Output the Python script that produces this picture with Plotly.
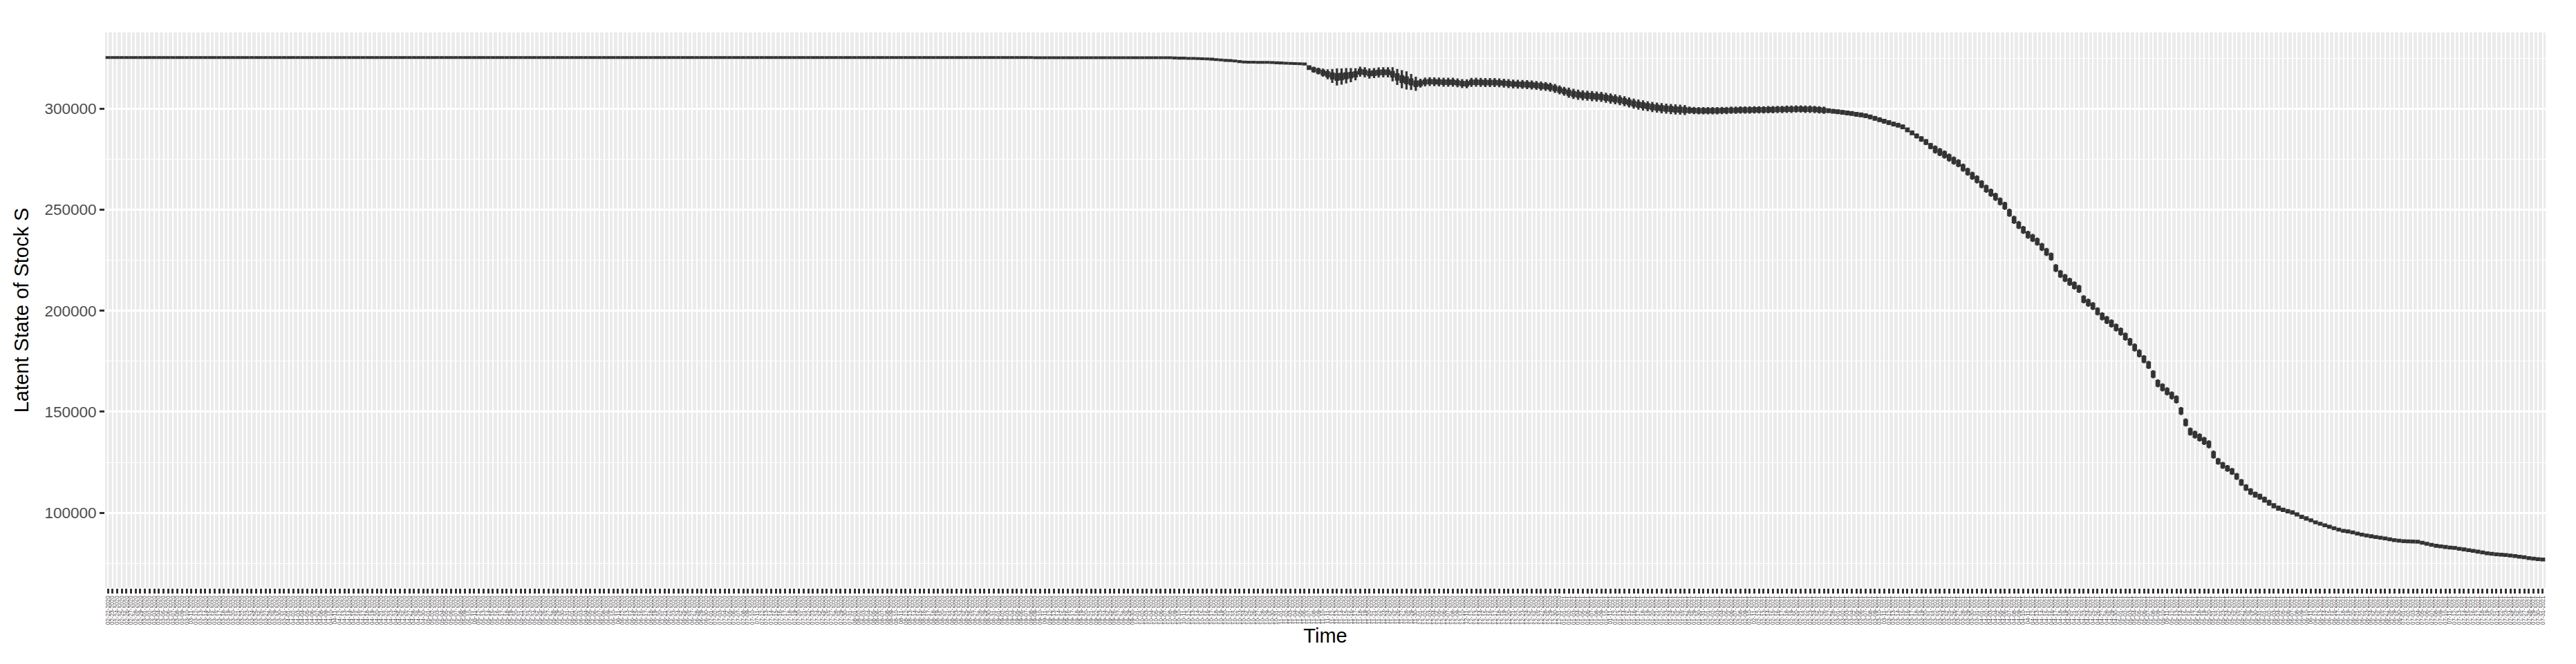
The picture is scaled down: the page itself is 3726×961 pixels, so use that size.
import plotly.graph_objects as go
import pandas as pd

# ---------------- categories (daily dates) ----------------
start_date = "2020-02-22"
end_date = "2021-07-31"
dates = [d.strftime("%m-%d-%Y") for d in pd.date_range(start_date, end_date, freq="D")]

# ---------------- medians (thousands) ----------------
med_flat = [
    325.3, 325.3, 325.3, 325.3, 325.3, 325.3, 325.3, 325.3, 325.3, 325.3, 325.3, 325.3, 325.3, 325.3, 325.3, 325.3, 325.3, 325.3, 325.3, 325.3,
    325.3, 325.3, 325.3, 325.3, 325.3, 325.3, 325.3, 325.3, 325.3, 325.3, 325.3, 325.3, 325.3, 325.3, 325.3, 325.3, 325.3, 325.3, 325.3, 325.3,
    325.3, 325.3, 325.3, 325.3, 325.3, 325.3, 325.3, 325.3, 325.3, 325.3, 325.3, 325.3, 325.3, 325.3, 325.3, 325.3, 325.3, 325.3, 325.3, 325.3,
    325.3, 325.3, 325.3, 325.3, 325.3, 325.3, 325.3, 325.3, 325.3, 325.3, 325.3, 325.3, 325.3, 325.3, 325.3, 325.3, 325.3, 325.3, 325.3, 325.3,
    325.3, 325.3, 325.3, 325.3, 325.3, 325.3, 325.3, 325.3, 325.3, 325.3, 325.3, 325.3, 325.3, 325.3, 325.3, 325.3, 325.3, 325.3, 325.3, 325.3,
    325.3, 325.3, 325.3, 325.3, 325.3, 325.3, 325.3, 325.3, 325.3, 325.3, 325.3, 325.3, 325.3, 325.3, 325.3, 325.3, 325.3, 325.3, 325.3, 325.3,
    325.3, 325.3, 325.3, 325.3, 325.3, 325.3, 325.3, 325.3, 325.3, 325.3, 325.3, 325.3, 325.3, 325.3, 325.3, 325.3, 325.3, 325.3, 325.3, 325.3,
    325.3, 325.3, 325.3, 325.3, 325.3, 325.3, 325.3, 325.3, 325.3, 325.3, 325.3, 325.3, 325.3, 325.3, 325.3, 325.3, 325.3, 325.3, 325.3, 325.3,
    325.3, 325.3, 325.3, 325.3, 325.3, 325.3, 325.3, 325.3, 325.3, 325.3, 325.3, 325.3, 325.3, 325.3, 325.3, 325.3, 325.3, 325.3, 325.3, 325.3,
    325.3, 325.3, 325.3, 325.3, 325.3, 325.3, 325.3, 325.3, 325.3, 325.3, 325.3, 325.3, 325.3, 325.3, 325.3, 325.3, 325.3, 325.3, 325.3, 325.3,
    325.2, 325.2, 325.2, 325.2, 325.2, 325.2, 325.2, 325.2, 325.2, 325.2, 325.2, 325.2, 325.2, 325.2, 325.2, 325.2, 325.2, 325.2, 325.2, 325.2,
    325.2, 325.2, 325.2, 325.2, 325.2, 325.2, 325.2, 325.2, 325.2, 325.2,
]
med_early_drop = [
    325.1, 325.0, 325.0, 324.9, 324.9, 324.8, 324.7, 324.6, 324.5, 324.3, 324.1, 323.9, 323.8, 323.6, 323.3, 323.1, 323.0, 323.0, 322.9, 322.9,
    322.9, 322.8, 322.7, 322.6, 322.5, 322.4, 322.3, 322.2, 322.1,
]
med_wobble = [
    320.3, 319.3, 318.6, 317.8, 317.0, 316.2, 315.7, 315.9, 316.3, 316.6, 317.0, 318.3, 318.0, 317.4, 317.6, 317.9, 318.0, 318.0, 317.0, 315.7,
    314.6, 314.0, 313.2, 312.3, 312.6, 313.2, 313.4, 313.3, 313.2, 313.1, 313.1, 313.1, 312.8, 312.4, 312.3, 313.0, 313.1, 313.0, 312.9, 312.9,
    312.9, 312.8, 312.6, 312.4, 312.2, 312.1,
]
med_plateau = [
    312.0, 311.9, 311.7, 311.5, 311.2, 311.0, 310.6, 310.0, 309.3, 308.6, 307.9, 307.3, 306.9, 306.6, 306.4, 306.2, 306.0, 305.8, 305.4, 305.0,
    304.6, 304.2, 303.7, 303.1, 302.5, 302.0, 301.6, 301.2, 300.8, 300.5, 300.2, 300.0, 299.8, 299.6, 299.5, 299.3, 299.2, 299.1, 299.0, 299.0,
    299.0, 299.0, 299.0, 299.1, 299.1, 299.2, 299.2, 299.3, 299.3, 299.3, 299.4, 299.4, 299.4, 299.5, 299.5, 299.6, 299.6, 299.7, 299.7, 299.8,
    299.8, 299.7, 299.7, 299.6, 299.4, 299.2, 299.0, 298.7, 298.5, 298.2, 297.9, 297.6, 297.2, 296.9, 296.5, 295.9, 295.2, 294.5, 293.8, 293.1,
    292.4, 291.8, 291.0, 289.5, 288.0, 286.5, 285.0, 283.5, 281.5,
]
med_collapse = [
    279.8, 278.5, 277.3, 275.8, 274.3, 273.0, 270.8, 268.8, 266.8, 265.0, 262.6, 260.4, 258.4, 256.4, 254.1, 251.9, 248.5, 245.0, 242.4, 240.0,
    237.6, 236.0, 234.2, 231.6, 229.1, 226.8, 221.1, 218.2, 216.2, 214.3, 212.5, 210.8, 205.7, 204.0, 202.3, 199.7, 197.2, 195.4, 193.7, 191.7,
    189.7, 187.2, 184.6, 181.8, 178.9, 176.0, 173.2, 168.6, 164.1, 162.1, 160.1, 158.1, 156.1, 150.4, 144.7, 140.2, 138.7, 137.3, 135.6, 133.9,
    128.8,
]
med_tail = [
    125.5, 123.5, 122.0, 120.5, 118.0, 115.0, 112.5, 110.5, 109.0, 108.0, 106.5, 105.0, 103.5, 102.3, 101.5, 100.8, 100.2, 99.2, 98.0, 97.2,
    96.3, 95.3, 94.6, 93.8, 93.1, 92.4, 91.7, 91.1, 90.8, 90.3, 89.7, 89.2, 88.8, 88.4, 88.0, 87.7, 87.3, 86.9, 86.5, 86.2,
    86.0, 85.9, 85.8, 85.7, 85.2, 84.7, 84.2, 83.7, 83.4, 83.1, 82.8, 82.6, 82.2, 81.9, 81.5, 81.2, 80.8, 80.4, 80.0, 79.7,
    79.5, 79.3, 79.1, 78.9, 78.6, 78.3, 78.0, 77.6, 77.3, 77.1, 76.9,
]
median_k = med_flat + med_early_drop + med_wobble + med_plateau + med_collapse + med_tail

# ---------------- spreads (thousands): half IQR and half whisker range ----------------
box_early = (
    [0.15, 0.15, 0.15, 0.15, 0.15, 0.15, 0.15, 0.15, 0.15, 0.15] * 23
    + [0.15, 0.15, 0.15, 0.15, 0.15, 0.15, 0.15, 0.15, 0.15, 0.15, 0.15, 0.15, 0.15, 0.15, 0.15, 0.15, 0.15, 0.15, 0.15, 0.15,
       0.15, 0.15, 0.15, 0.15, 0.15, 0.15, 0.15, 0.15, 0.2]
    + [0.6, 0.7, 0.8, 0.9, 1.0, 1.2, 1.4, 1.3, 1.2, 1.1, 1.0, 0.9, 0.9, 0.9, 0.9, 0.9, 0.9, 0.9, 1.1, 1.3,
       1.4, 1.4, 1.2, 1.1, 0.9, 0.8, 0.8, 0.8, 0.8, 0.8, 0.8, 0.8, 0.8, 0.8, 0.8, 0.8, 0.8, 0.8, 0.8, 0.8,
       0.8, 0.8, 0.8, 0.8, 0.8, 0.8]
)
whisk_early = (
    [0.4, 0.4, 0.4, 0.4, 0.4, 0.4, 0.4, 0.4, 0.4, 0.4] * 23
    + [0.4, 0.4, 0.4, 0.4, 0.4, 0.4, 0.4, 0.4, 0.4, 0.4, 0.4, 0.4, 0.4, 0.4, 0.4, 0.4, 0.4, 0.4, 0.4, 0.4,
       0.4, 0.4, 0.4, 0.4, 0.4, 0.4, 0.4, 0.4, 0.5]
    + [1.0, 1.5, 1.7, 2.0, 2.5, 3.5, 4.2, 4.0, 3.8, 3.5, 3.0, 2.5, 2.5, 2.5, 2.5, 2.5, 2.5, 2.5, 3.5, 4.0,
       4.5, 4.5, 4.0, 3.5, 2.2, 2.2, 2.2, 2.2, 2.2, 2.2, 2.2, 2.2, 2.2, 2.2, 2.2, 2.2, 2.2, 2.2, 2.2, 2.2,
       2.2, 2.2, 2.2, 2.2, 2.2, 2.2]
)
box_plateau = [
    0.9, 0.9, 0.9, 0.9, 0.9, 0.9, 0.9, 0.9, 0.9, 0.9, 1.0, 1.0, 1.0, 1.0, 1.0, 1.0, 1.0, 1.0, 1.0, 1.0,
    1.0, 1.0, 1.0, 1.0, 1.0, 1.0, 1.0, 1.0, 1.0, 1.0, 1.0, 1.0, 1.0, 1.0, 1.0, 1.0, 0.8, 0.8, 0.8, 0.8,
    0.8, 0.8, 0.8, 0.8, 0.8, 0.8, 0.8, 0.8, 0.8, 0.8, 0.8, 0.8, 0.8, 0.8, 0.8, 0.8, 0.8, 0.8, 0.8, 0.8,
    0.8, 0.8, 0.8, 0.8, 0.8, 0.8, 0.6, 0.6, 0.6, 0.6, 0.6, 0.6, 0.6, 0.6, 0.6, 0.6, 0.6, 0.6, 0.6, 0.6,
    0.6, 0.6, 0.6, 0.6, 0.6, 0.6, 0.7, 0.8, 0.9,
]
whisk_plateau = [
    2.2, 2.2, 2.2, 2.2, 2.2, 2.2, 2.2, 2.2, 2.2, 2.2, 2.5, 2.5, 2.5, 2.5, 2.5, 2.5, 2.5, 2.5, 2.5, 2.5,
    2.5, 2.5, 2.5, 2.5, 2.5, 2.5, 2.5, 2.5, 2.5, 2.5, 2.5, 2.5, 2.5, 2.5, 2.5, 2.5, 1.8, 1.8, 1.8, 1.8,
    1.8, 1.8, 1.8, 1.8, 1.8, 1.8, 1.8, 1.8, 1.8, 1.8, 1.8, 1.8, 1.8, 1.8, 1.8, 1.8, 1.8, 1.8, 1.8, 1.8,
    1.8, 1.8, 1.8, 1.8, 1.8, 1.8, 1.2, 1.2, 1.2, 1.2, 1.2, 1.2, 1.2, 1.2, 1.2, 1.2, 1.2, 1.2, 1.2, 1.2,
    1.2, 1.2, 1.2, 1.2, 1.2, 1.3, 1.4, 1.5, 1.6,
]
box_collapse = [
    1.1, 1.1, 1.1, 1.1, 1.1, 1.1, 1.1, 1.1, 1.1, 1.1, 1.1, 1.1, 1.1, 1.1, 1.1, 1.1, 1.1, 1.1, 1.1, 1.1,
    1.1, 1.1, 1.1, 1.1, 1.1, 1.1, 1.1, 1.1, 1.1, 1.1, 1.1, 1.1, 1.1, 1.1, 1.1, 1.1, 1.1, 1.1, 1.1, 1.1,
    1.1, 1.1, 1.1, 1.1, 1.1, 1.1, 1.1, 1.1, 1.1, 1.1, 1.1, 1.1, 1.1, 1.1, 1.1, 1.1, 1.1, 1.1, 1.1, 1.1,
    1.1,
]
whisk_collapse = [
    2.0, 2.0, 2.0, 2.0, 2.0, 2.0, 2.0, 2.0, 2.0, 2.0, 2.0, 2.0, 2.0, 2.0, 2.0, 2.0, 2.0, 2.0, 2.0, 2.0,
    2.0, 2.0, 2.0, 2.0, 2.0, 2.0, 2.0, 2.0, 2.0, 2.0, 2.0, 2.0, 2.0, 2.0, 2.0, 2.0, 2.0, 2.0, 2.0, 2.0,
    2.0, 2.0, 2.0, 2.0, 2.0, 2.0, 2.0, 2.0, 2.0, 2.0, 2.0, 2.0, 2.0, 2.0, 2.0, 2.0, 2.0, 2.0, 2.0, 2.0,
    2.0,
]
box_tail = [
    0.9, 0.9, 0.9, 0.9, 0.9, 0.9, 0.9, 0.9, 0.8, 0.8, 0.8, 0.8, 0.7, 0.7, 0.5, 0.5, 0.5, 0.5, 0.5, 0.5,
    0.4, 0.4, 0.4, 0.4, 0.4, 0.4, 0.4, 0.4, 0.4, 0.4, 0.4, 0.4, 0.4, 0.4, 0.4, 0.4, 0.4, 0.4, 0.4, 0.4,
    0.4, 0.4, 0.4, 0.4, 0.4, 0.4, 0.4, 0.4, 0.4, 0.4, 0.4, 0.4, 0.4, 0.4, 0.4, 0.4, 0.4, 0.4, 0.4, 0.4,
    0.4, 0.4, 0.4, 0.4, 0.4, 0.4, 0.4, 0.4, 0.4, 0.4, 0.4,
]
whisk_tail = [
    1.7, 1.7, 1.7, 1.7, 1.7, 1.7, 1.7, 1.7, 1.5, 1.5, 1.5, 1.5, 1.3, 1.3, 0.9, 0.9, 0.9, 0.9, 0.9, 0.9,
    0.7, 0.7, 0.7, 0.7, 0.7, 0.7, 0.7, 0.7, 0.7, 0.7, 0.7, 0.7, 0.7, 0.7, 0.7, 0.7, 0.7, 0.7, 0.7, 0.7,
    0.7, 0.7, 0.7, 0.7, 0.7, 0.7, 0.7, 0.7, 0.7, 0.7, 0.7, 0.7, 0.7, 0.7, 0.7, 0.7, 0.7, 0.7, 0.7, 0.7,
    0.7, 0.7, 0.7, 0.7, 0.7, 0.7, 0.7, 0.7, 0.7, 0.7, 0.7,
]
box_half_k = box_early + box_plateau + box_collapse + box_tail
whisk_half_k = whisk_early + whisk_plateau + whisk_collapse + whisk_tail

n = min(len(dates), len(median_k), len(box_half_k), len(whisk_half_k))
dates = dates[:n]
med = [v * 1000 for v in median_k[:n]]
q1 = [(m - b) * 1000 for m, b in zip(median_k[:n], box_half_k[:n])]
q3 = [(m + b) * 1000 for m, b in zip(median_k[:n], box_half_k[:n])]
lf = [(m - w) * 1000 for m, w in zip(median_k[:n], whisk_half_k[:n])]
uf = [(m + w) * 1000 for m, w in zip(median_k[:n], whisk_half_k[:n])]

y_ticks = [100000, 150000, 200000, 250000, 300000]
y_minor = [75000, 125000, 175000, 225000, 275000, 325000]

fig = go.Figure()
fig.add_trace(go.Box(
    x=dates, q1=q1, median=med, q3=q3, lowerfence=lf, upperfence=uf,
    boxpoints=False, whiskerwidth=0,
    line=dict(color="#333333", width=3.2),
    fillcolor="#333333",
    showlegend=False, hoverinfo="skip",
))

# the page body adds an 8px offset; margins compensate so the panel lands at
# left 152, right 3682, top 47, bottom 851 in the window
fig.update_layout(
    width=3726, height=961,
    margin=dict(l=144, r=52, t=39, b=118),
    paper_bgcolor="white",
    plot_bgcolor="#EBEBEB",
    boxgap=0.25,
    font=dict(family="Liberation Sans, Arial, sans-serif"),
    showlegend=False,
)
fig.update_xaxes(
    type="category", categoryorder="array", categoryarray=dates,
    range=[-0.6, n - 1 + 0.6],
    tickmode="array", tickvals=dates, ticktext=dates,
    tickangle=-90,
    tickfont=dict(size=8.2, color="#4D4D4D"),
    ticks="outside", ticklen=7, tickwidth=3, tickcolor="#333333",
    showgrid=True, gridcolor="white", gridwidth=2.3,
    showline=False, zeroline=False,
    title=dict(text="Time", font=dict(size=29, color="black"), standoff=6),
)
fig.update_yaxes(
    range=[62800, 337700],
    tickmode="array", tickvals=y_ticks, ticktext=[str(v) for v in y_ticks],
    tickfont=dict(size=22.5, color="#4D4D4D"),
    ticks="outside", ticklen=7, tickwidth=3, tickcolor="#333333",
    showgrid=True, gridcolor="white", gridwidth=2.7,
    minor=dict(tickmode="array", tickvals=y_minor, showgrid=True, gridcolor="white", gridwidth=1.4, ticks=""),
    showline=False, zeroline=False,
    title=dict(text="Latent State of Stock S", font=dict(size=29, color="black"), standoff=14),
)

fig.write_html("out.html", config={"displayModeBar": False})
